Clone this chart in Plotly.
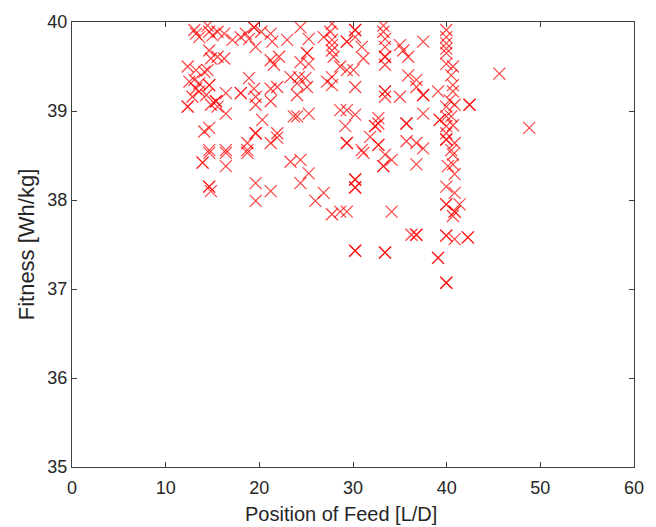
import plotly.graph_objects as go

# Position of Feed [L/D]
feed_pos = [
    13.06, 13.24, 13.59, 14.47, 14.65, 15.00, 15.54, 16.25, 17.13, 18.02,
    18.55, 18.90, 19.43, 19.43, 19.61, 21.21, 21.38, 22.97, 14.65, 14.83,
    15.54, 16.25, 12.35, 13.24, 14.47, 13.06, 13.59, 14.65, 14.65, 13.24,
    18.90, 19.43, 18.02, 18.02, 16.43, 19.61, 21.21, 21.56, 21.91, 21.21,
    23.33, 12.35, 12.35, 15.37, 15.37, 15.54, 14.83, 16.43, 19.61, 21.21,
    20.31, 14.12, 14.65, 19.61, 19.61, 21.91, 21.21, 18.72, 14.65, 16.43,
    18.72, 23.68, 13.94, 13.94, 14.65, 16.43, 16.43, 18.72, 14.65, 14.65,
    14.83, 19.61, 21.21, 19.61, 23.33, 24.39, 25.27, 27.75, 27.58, 27.75,
    27.75, 27.75, 26.87, 27.93, 29.34, 29.34, 30.23, 30.23, 30.23, 30.93,
    31.11, 33.24, 33.24, 33.42, 33.42, 33.42, 33.42, 33.42, 35.01, 35.36,
    35.89, 25.09, 25.09, 24.39, 25.27, 28.64, 29.34, 30.05, 24.21, 24.92,
    24.03, 25.09, 27.22, 27.75, 27.75, 30.23, 24.03, 33.42, 33.42, 33.42,
    35.01, 35.89, 28.64, 29.34, 30.23, 25.27, 24.03, 29.17, 32.71, 32.71,
    32.36, 32.36, 35.71, 35.71, 29.34, 29.34, 31.83, 30.93, 32.71, 32.71,
    35.71, 24.39, 25.27, 24.39, 26.87, 25.98, 27.75, 28.64, 29.34, 30.23,
    30.23, 30.23, 30.23, 31.11, 33.24, 33.24, 33.42, 34.12, 34.12, 30.23,
    30.23, 33.42, 33.42, 36.24, 37.49, 39.96, 39.96, 39.96, 39.96, 39.96,
    39.96, 40.67, 40.49, 45.63, 36.77, 36.77, 37.49, 37.49, 39.08, 40.67,
    40.67, 40.32, 40.85, 42.44, 42.44, 39.96, 37.49, 39.26, 39.26, 39.96,
    40.49, 39.96, 40.67, 39.96, 39.96, 39.96, 40.85, 40.49, 48.82, 37.49,
    36.77, 36.77, 40.14, 40.67, 40.85, 39.96, 40.85, 39.96, 39.96, 40.85,
    40.85, 41.38, 40.67, 36.77, 36.77, 39.96, 39.96, 40.85, 42.26, 42.26,
    39.08, 39.08, 39.96, 39.96, 40.67, 12.53, 14.12, 13.59, 12.85, 14.34,
    20.20, 22.10, 21.90,
]

# Fitness [Wh/kg]
fitness = [
    39.91, 39.87, 39.83, 39.96, 39.89, 39.85, 39.89, 39.87, 39.80, 39.83,
    39.87, 39.81, 39.94, 39.94, 39.72, 39.87, 39.78, 39.80, 39.68, 39.59,
    39.61, 39.59, 39.50, 39.46, 39.46, 39.35, 39.31, 39.29, 39.29, 39.25,
    39.37, 39.25, 39.20, 39.20, 39.20, 39.16, 39.57, 39.52, 39.27, 39.25,
    39.38, 39.05, 39.05, 39.11, 39.11, 39.05, 39.07, 38.97, 39.07, 39.11,
    38.90, 38.77, 38.81, 38.75, 38.75, 38.75, 38.64, 38.64, 38.56, 38.56,
    38.56, 38.94, 38.42, 38.42, 38.53, 38.53, 38.38, 38.53, 38.15, 38.15,
    38.10, 38.19, 38.10, 37.99, 38.43, 39.94, 39.81, 39.98, 39.89, 39.80,
    39.74, 39.68, 39.83, 39.61, 39.78, 39.78, 39.91, 39.91, 39.83, 39.72,
    39.59, 39.96, 39.89, 39.81, 39.72, 39.61, 39.61, 39.52, 39.74, 39.68,
    39.61, 39.65, 39.65, 39.55, 39.53, 39.50, 39.46, 39.46, 39.38, 39.37,
    39.31, 39.27, 39.33, 39.29, 39.38, 39.27, 39.18, 39.22, 39.22, 39.16,
    39.16, 39.40, 39.01, 39.01, 38.96, 38.97, 38.94, 38.83, 38.86, 38.92,
    38.83, 38.83, 38.86, 38.86, 38.64, 38.64, 38.71, 38.56, 38.62, 38.62,
    38.66, 38.45, 38.30, 38.19, 38.08, 37.99, 37.84, 37.87, 37.87, 38.23,
    38.23, 38.14, 38.14, 38.53, 38.38, 38.38, 38.51, 38.45, 37.87, 37.43,
    37.43, 37.41, 37.41, 37.61, 39.78, 39.91, 39.83, 39.76, 39.70, 39.65,
    39.53, 39.50, 39.40, 39.42, 39.35, 39.27, 39.18, 39.18, 39.22, 39.29,
    39.22, 39.12, 39.07, 39.07, 39.07, 39.05, 38.97, 38.90, 38.90, 38.94,
    38.94, 38.83, 38.84, 38.75, 38.68, 38.68, 38.64, 38.56, 38.81, 38.58,
    38.64, 38.40, 38.38, 38.40, 38.29, 38.15, 38.08, 37.95, 37.95, 37.87,
    37.87, 37.95, 37.82, 37.61, 37.61, 37.60, 37.60, 37.56, 37.58, 37.58,
    37.35, 37.35, 37.07, 37.07, 38.51, 39.33, 39.44, 39.22, 39.16, 39.18,
    39.89, 39.61, 38.70,
]

x_ticks = [0, 10, 20, 30, 40, 50, 60]
y_ticks = [35, 36, 37, 38, 39, 40]

FONT = "Liberation Sans, Arial"
TXT = "#262626"

fig = go.Figure(
    go.Scatter(
        x=feed_pos,
        y=fitness,
        mode="markers",
        marker=dict(
            symbol="x-thin",
            size=12,
            color="rgba(0,0,0,0)",
            line=dict(color="rgba(255,0,0,0.75)", width=1.2),
        ),
        cliponaxis=True,
        showlegend=False,
    )
)

axis_common = dict(
    showgrid=False,
    zeroline=False,
    showline=True,
    linecolor="#404040",
    linewidth=1,
    mirror="ticks",
    ticks="inside",
    ticklen=5,
    tickcolor="#404040",
    tickfont=dict(family=FONT, size=18, color=TXT),
)

fig.update_xaxes(
    range=[0, 60],
    tickvals=x_ticks,
    ticklabelstandoff=4,
    **axis_common,
)
fig.update_yaxes(
    range=[35, 40],
    tickvals=y_ticks,
    title_text="Fitness [Wh/kg]",
    title_font=dict(family=FONT, size=22, color=TXT),
    title_standoff=6,
    **axis_common,
)

fig.add_annotation(
    text="Position of Feed [L/D]",
    xref="paper", yref="paper",
    x=0.478, y=-0.105,
    xanchor="center", yanchor="middle",
    showarrow=False,
    font=dict(family=FONT, size=20, color=TXT),
)

fig.update_layout(
    width=656,
    height=527,
    margin=dict(l=72, r=19, t=20, b=60),
    paper_bgcolor="white",
    plot_bgcolor="white",
)

fig.write_html("out.html")
